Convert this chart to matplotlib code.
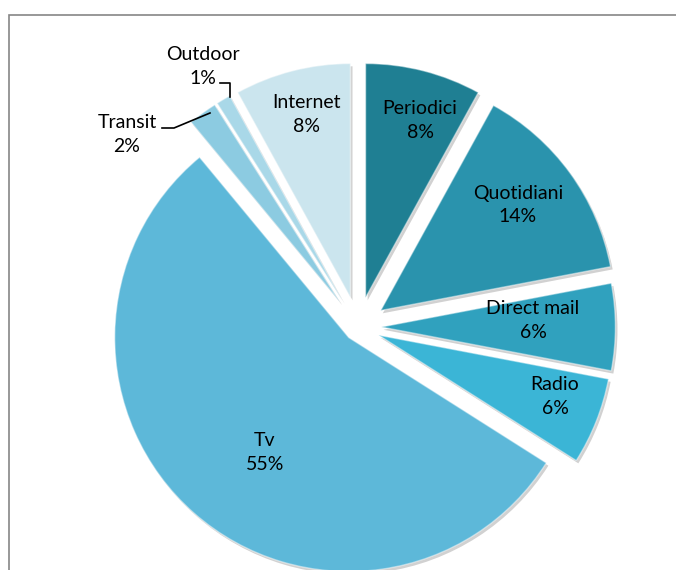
import matplotlib
matplotlib.use("Agg")
import matplotlib.pyplot as plt
from matplotlib.patches import Rectangle
import matplotlib.patheffects as pe

labels = ["Periodici", "Quotidiani", "Direct mail", "Radio", "Tv", "Transit", "Outdoor", "Internet"]
values = [8, 14, 6, 6, 55, 2, 1, 8]
explode_frac = [0.13, 0.12, 0.10, 0.095, 0.06, 0.13, 0.13, 0.13]
colors = ["#1f7f93", "#2a93ad", "#30a1be", "#3bb5d6", "#5db8d9", "#8ccbe1", "#a9d8e8", "#cbe5ee"]

W, H = 676, 570
fig = plt.figure(figsize=(W / 100, H / 100), dpi=100)
ax = fig.add_axes([0, 0, 1, 1])

cx, cy, r = 358, H - 327, 234
# matplotlib applies explode in data units, so scale the fractions by the radius
explode = [e * r for e in explode_frac]
wedges, _ = ax.pie(values, explode=explode, colors=colors, startangle=90,
                   counterclock=False, radius=r, center=(cx, cy),
                   wedgeprops=dict(linewidth=1.0))
for w, c in zip(wedges, colors):
    w.set_edgecolor((1, 1, 1, 0.45))
    w.set_path_effects([pe.SimplePatchShadow(offset=(1.5, -2), shadow_rgbFace="#9a9a9a", alpha=0.45),
                        pe.Normal()])

ax.set_xlim(0, W)
ax.set_ylim(0, H)
ax.set_aspect("auto")
ax.set_axis_off()

# chart border
ax.add_patch(Rectangle((9, -20), W + 20, H - 15 + 20, fill=False,
                       edgecolor="#868686", linewidth=1.2, clip_on=False))

font = dict(family=["Lato", "DejaVu Sans"], fontsize=14, color="black",
            ha="center", va="center", linespacing=1.5)

label_pos = {
    "Periodici": (420, 120),
    "Quotidiani": (518, 205),
    "Direct mail": (533, 320),
    "Radio": (555, 396),
    "Tv": (265, 453),
    "Internet": (307, 114),
    "Outdoor": (203, 66),
    "Transit": (127, 134),
}
for lab, val in zip(labels, values):
    x, y = label_pos[lab]
    ax.text(x, H - y, f"{lab}\n{val}%", **font)

# leader lines
ax.plot([162, 174, 210], [H - 128, H - 128, H - 113], color="black", lw=1.2)
ax.plot([220, 230, 230], [H - 83, H - 83, H - 97], color="black", lw=1.2)

fig.savefig("out.png", dpi=100, facecolor="white")
